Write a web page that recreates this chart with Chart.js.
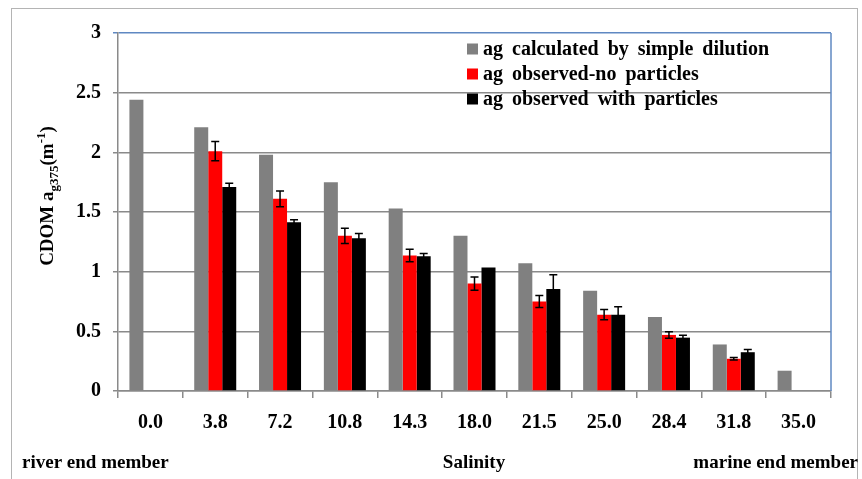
<!DOCTYPE html>
<html>
<head>
<meta charset="utf-8">
<script src="https://cdn.jsdelivr.net/npm/chart.js@4.4.0/dist/chart.umd.min.js"></script>
<style>
  body { margin: 0; background: #fff; }
  #wrap { width: 862px; height: 479px; }
</style>
</head>
<body>
<div id="wrap"><canvas id="cdomChart"></canvas></div>
<script>
const salinity = ['0.0', '3.8', '7.2', '10.8', '14.3', '18.0', '21.5', '25.0', '28.4', '31.8', '35.0'];
const dilution = [2.44, 2.21, 1.98, 1.75, 1.53, 1.30, 1.07, 0.84, 0.62, 0.39, 0.17];
const noParticles = [null, 2.01, 1.61, 1.30, 1.135, 0.90, 0.75, 0.64, 0.47, 0.27, null];
const noParticlesErr = [null, 0.08, 0.065, 0.063, 0.052, 0.056, 0.05, 0.043, 0.027, 0.01, null];
const withParticles = [null, 1.71, 1.415, 1.28, 1.13, 1.035, 0.855, 0.64, 0.447, 0.325, null];
const withParticlesErr = [null, 0.03, 0.02, 0.04, 0.023, 0, 0.12, 0.067, 0.02, 0.022, null];

const serif = "'Liberation Serif', serif";
const gridGray = '#8a8a8a';
const frameBlue = '#5f88c2';

// error bars for the observed series
const errorBars = {
    id: 'errorBars',
    afterDatasetsDraw(chart) {
        const ctx = chart.ctx;
        const y = chart.scales.y;
        ctx.save();
        ctx.strokeStyle = '#000';
        ctx.lineWidth = 1.5;
        chart.data.datasets.forEach((ds, di) => {
            if (!ds.errors) return;
            chart.getDatasetMeta(di).data.forEach((bar, i) => {
                const v = ds.data[i], e = ds.errors[i];
                if (v == null || !e) return;
                const top = y.getPixelForValue(v + e);
                const bot = y.getPixelForValue(v - e);
                ctx.beginPath();
                ctx.moveTo(bar.x, top); ctx.lineTo(bar.x, bot);
                ctx.moveTo(bar.x - 4, top); ctx.lineTo(bar.x + 4, top);
                ctx.moveTo(bar.x - 4, bot); ctx.lineTo(bar.x + 4, bot);
                ctx.stroke();
            });
        });
        ctx.restore();
    }
};

// outer frame, right border, legend, axis titles
const decorations = {
    id: 'decorations',
    beforeDraw(chart) {
        const ctx = chart.ctx;
        ctx.save();
        ctx.fillStyle = '#fff';
        ctx.fillRect(0, 0, chart.width, chart.height);
        ctx.strokeStyle = '#b4b4b4';
        ctx.lineWidth = 1;
        ctx.strokeRect(11.5, 8.5, 846, 490);
        ctx.restore();
    },
    afterDraw(chart) {
        const ctx = chart.ctx;
        const area = chart.chartArea;
        ctx.save();
        ctx.strokeStyle = frameBlue;
        ctx.lineWidth = 1.5;
        ctx.beginPath();
        ctx.moveTo(area.right, area.top);
        ctx.lineTo(area.right, area.bottom);
        ctx.stroke();

        // legend
        ctx.font = 'bold 20px ' + serif;
        ctx.wordSpacing = '4px';
        ctx.textBaseline = 'middle';
        chart.data.datasets.forEach((ds, i) => {
            const ly = 49 + i * 25;
            ctx.fillStyle = ds.backgroundColor;
            ctx.fillRect(467, ly - 5.5, 11, 11);
            ctx.fillStyle = '#000';
            ctx.fillText(ds.label, 483, ly + 1);
        });
        ctx.wordSpacing = '0px';

        // bottom captions
        ctx.font = 'bold 19px ' + serif;
        ctx.textBaseline = 'alphabetic';
        ctx.textAlign = 'left';
        ctx.fillText('river end member', 22, 468);
        ctx.textAlign = 'center';
        ctx.fillText('Salinity', 474, 468);
        ctx.textAlign = 'right';
        ctx.fillText('marine end member', 858, 468);

        // rotated y title with sub/superscript
        ctx.translate(53, 196);
        ctx.rotate(-Math.PI / 2);
        const big = 'bold 19px ' + serif, small = 'bold 13px ' + serif;
        const parts = [
            { t: 'CDOM a', f: big, dy: 0 },
            { t: 'g375', f: small, dy: 5 },
            { t: '(m', f: big, dy: 0 },
            { t: '-1', f: small, dy: -8 },
            { t: ')', f: big, dy: 0 }
        ];
        let total = 0;
        parts.forEach(p => { ctx.font = p.f; p.w = ctx.measureText(p.t).width; total += p.w; });
        let x = -total / 2;
        ctx.textAlign = 'left';
        parts.forEach(p => {
            ctx.font = p.f;
            ctx.fillText(p.t, x, p.dy);
            x += p.w;
        });
        ctx.restore();
    }
};

new Chart(document.getElementById('cdomChart'), {
    type: 'bar',
    data: {
        labels: salinity,
        datasets: [
            { label: 'ag calculated by simple dilution', data: dilution, backgroundColor: '#808080' },
            { label: 'ag observed-no particles', data: noParticles, errors: noParticlesErr, backgroundColor: '#ff0000' },
            { label: 'ag observed with particles', data: withParticles, errors: withParticlesErr, backgroundColor: '#000000' }
        ]
    },
    options: {
        responsive: true,
        maintainAspectRatio: false,
        animation: false,
        datasets: { bar: { categoryPercentage: 0.648, barPercentage: 1.0 } },
        layout: { padding: { left: 0, top: 33, right: 31, bottom: 0 } },
        plugins: {
            legend: { display: false },
            tooltip: { enabled: false }
        },
        scales: {
            x: {
                afterFit(scale) { scale.height = 88; },
                grid: { drawOnChartArea: false, tickLength: 7, color: gridGray, lineWidth: 1.5 },
                border: { color: gridGray, width: 1.5 },
                ticks: { color: '#000', padding: 13, font: { family: serif, size: 20, weight: 'bold' } }
            },
            y: {
                min: 0,
                max: 3,
                afterFit(scale) { scale.width = 118; },
                ticks: {
                    stepSize: 0.5,
                    color: '#000',
                    padding: 12,
                    font: { family: serif, size: 20, weight: 'bold' },
                    callback: v => String(v)
                },
                grid: {
                    tickLength: 5,
                    lineWidth: 1.5,
                    color: c => (c.tick && c.tick.value === 3) ? frameBlue : gridGray
                },
                border: { color: gridGray, width: 1.5 }
            }
        }
    },
    plugins: [errorBars, decorations]
});
</script>
</body>
</html>
